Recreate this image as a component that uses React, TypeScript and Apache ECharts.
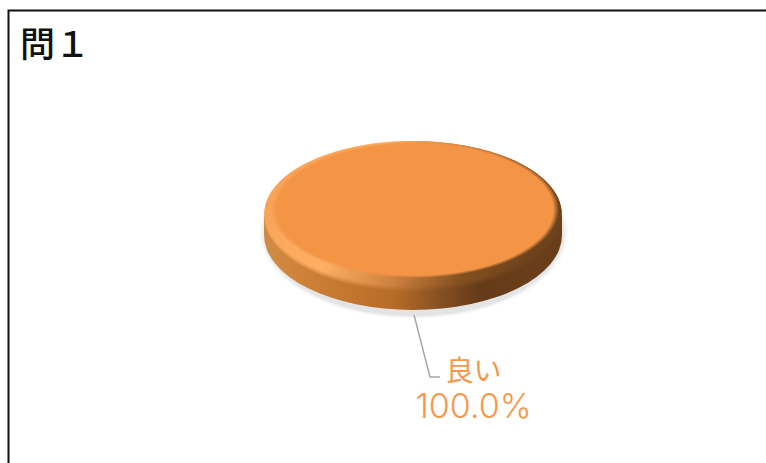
import React, { useEffect, useRef } from "react";
import * as echarts from "echarts";

const categories = ["良い"];
const seriesValues = [100];
const chartTitle = "問１";

const CX = 413, RX = 149, TOP_CY = 216, RY = 75, DEPTH = 19;

function grad(x0: number, y0: number, x1: number, y1: number, stops: [number, string][]) {
  return new echarts.graphic.LinearGradient(x0, y0, x1, y1, stops.map(([offset, color]) => ({ offset, color })));
}

export default function App() {
  const ref = useRef<HTMLDivElement>(null);
  useEffect(() => {
    document.body.style.margin = "0";
    document.body.style.background = "#fff";
    const chart = echarts.init(ref.current!, undefined, { renderer: "svg" });
    const total = seriesValues.reduce((a, b) => a + b, 0);
    chart.setOption({
      animation: false,
      backgroundColor: "#ffffff",
      graphic: [
        {
          type: "polyline",
          silent: true,
          shape: { points: [[8.5, 470], [8.5, 10.5], [775, 10.5]] },
          style: { fill: "none", stroke: "#111111", lineWidth: 2 },
        },
      ],
      title: {
        text: chartTitle,
        left: 20,
        top: 24,
        padding: 0,
        textStyle: { fontFamily: "'Noto Sans CJK JP'", fontSize: 35, fontWeight: 500, color: "#111111" },
      },
      series: [
        {
          type: "custom",
          coordinateSystem: "none",
          silent: true,
          data: categories.map((name, i) => ({ name, value: seriesValues[i] })),
          renderItem: (params: any, api: any) => {
            const v = api.value(0) as number;
            const share = v / total;
            const xa = CX - RX;
            const xb = CX + RX;
            const side = `M${xa} ${TOP_CY}L${xb} ${TOP_CY}L${xb} ${TOP_CY + DEPTH}A${RX} ${RY} 0 0 1 ${xa} ${TOP_CY + DEPTH}Z`;
            const name = categories[params.dataIndex];
            const rimFill = () =>
              grad(0, 0.1, 1, 0.35, [
                [0, "#f7a054"],
                [0.36, "#feb064"],
                [0.6, "#d08440"],
                [0.82, "#84501f"],
                [1, "#6e421b"],
              ]);
            const rimLayers = [
              { d: 0, o: 0.3 },
              { d: 1.5, o: 0.4 },
              { d: 3, o: 0.5 },
              { d: 4.5, o: 1 },
            ].map(({ d, o }) => ({
              type: "ellipse",
              shape: { cx: CX, cy: TOP_CY - d / 2, rx: RX - d * 0.08, ry: RY - d / 2 },
              style: { fill: rimFill(), opacity: o },
            }));
            return {
              type: "group",
              children: [
                {
                  type: "ellipse",
                  shape: { cx: CX + 1, cy: 233, rx: 155, ry: 86 },
                  style: {
                    fill: new echarts.graphic.RadialGradient(0.5, 0.5, 0.5, [
                      { offset: 0, color: "#e2e2e2" },
                      { offset: 0.96, color: "#e4e4e4" },
                      { offset: 1, color: "rgba(240,240,240,0)" },
                    ]),
                  },
                },
                {
                  type: "path",
                  shape: { pathData: side, x: xa, y: TOP_CY, width: RX * 2, height: RY + DEPTH },
                  style: {
                    fill: grad(0, 0, 1, 0, [
                      [0, "#d08c47"],
                      [0.12, "#cf8238"],
                      [0.44, "#b66b27"],
                      [0.58, "#8a5222"],
                      [0.72, "#663b18"],
                      [1, "#6a3e1a"],
                    ]),
                  },
                },
                ...rimLayers,
                {
                  type: "ellipse",
                  shape: { cx: CX + 2, cy: 209.5, rx: 144, ry: 68.5 },
                  style: {
                    fill: new echarts.graphic.RadialGradient(0.5, 0.5, 0.5, [
                      { offset: 0, color: "rgba(244,148,69,1)" },
                      { offset: 0.96, color: "rgba(244,148,69,1)" },
                      { offset: 1, color: "rgba(244,148,69,0)" },
                    ]),
                  },
                },
                {
                  type: "polyline",
                  shape: { points: [[414, 315], [430, 377], [440, 377]] },
                  style: { fill: "none", stroke: "#a6a6a6", lineWidth: 1.5 },
                },
                {
                  type: "text",
                  x: 473.5,
                  y: 387,
                  style: {
                    text: `{a|${name}}\n{b|${(share * 100).toFixed(1)}%}`,
                    fill: "#f5984c",
                    align: "center",
                    verticalAlign: "middle",
                    rich: {
                      a: { fontFamily: "'Noto Sans CJK JP'", fontSize: 28, lineHeight: 37, fill: "#f5984c" },
                      b: { fontFamily: "Inter", fontSize: 34, fontWeight: 300, lineHeight: 37, fill: "#f5984c" },
                    },
                  },
                },
              ],
            };
          },
        },
      ],
    });
    return () => chart.dispose();
  }, []);
  return <div ref={ref} style={{ width: 766, height: 463 }} />;
}
